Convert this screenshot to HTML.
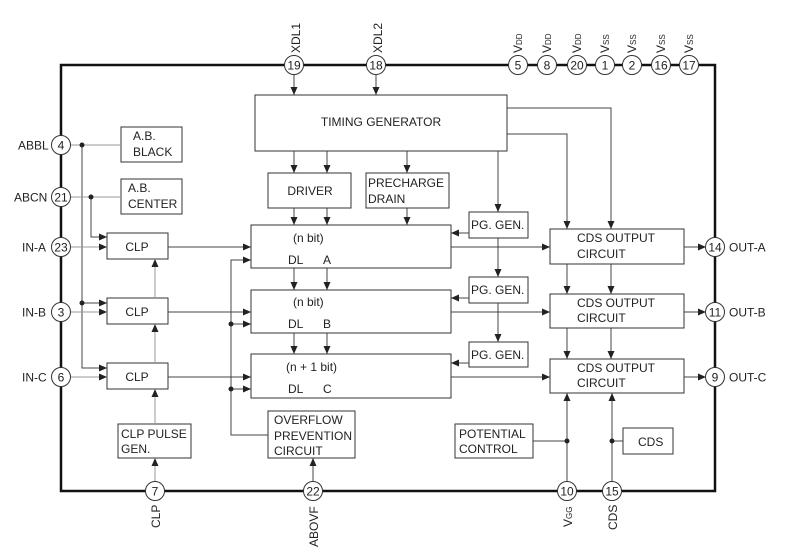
<!DOCTYPE html>
<html><head><meta charset="utf-8"><style>
html,body{margin:0;padding:0;background:#fff;}
svg{display:block;font-family:"Liberation Sans",Arial,sans-serif;}
text{fill:#222;font-size:12px;}
</style></head><body>
<svg width="789" height="554" viewBox="0 0 789 554" xmlns="http://www.w3.org/2000/svg">
<defs>
<marker id="a" markerWidth="8" markerHeight="8" refX="8" refY="4" orient="auto" markerUnits="userSpaceOnUse"><path d="M0,0.5 L8,4 L0,7.5z" fill="#222"/></marker>
</defs>
<!-- frame -->
<rect x="61" y="65" width="654" height="426" fill="none" stroke="#111" stroke-width="2.5"/>

<g fill="none" stroke="#333" stroke-width="1">
<!-- boxes -->
<rect x="255" y="95" width="252" height="56"/>
<rect x="121" y="127" width="61" height="35"/>
<rect x="121" y="179" width="61" height="35"/>
<rect x="268" y="173" width="83" height="35"/>
<rect x="366" y="173" width="83" height="35"/>
<rect x="251" y="225" width="200" height="43"/>
<rect x="251" y="290" width="200" height="43"/>
<rect x="251" y="354" width="200" height="44"/>
<rect x="107" y="233" width="61" height="26"/>
<rect x="107" y="298" width="61" height="26"/>
<rect x="107" y="363" width="61" height="26"/>
<rect x="118" y="424" width="73" height="34"/>
<rect x="268" y="411" width="87" height="47"/>
<rect x="469" y="212" width="59" height="26"/>
<rect x="469" y="277" width="59" height="26"/>
<rect x="469" y="342" width="59" height="25"/>
<rect x="550" y="229" width="134" height="35"/>
<rect x="550" y="294" width="134" height="34"/>
<rect x="550" y="359" width="134" height="34"/>
<rect x="455" y="424" width="78" height="34"/>
<rect x="623" y="428" width="50" height="26"/>
</g>

<g fill="none" stroke="#444" stroke-width="1">
<!-- top pins to timing -->
<line x1="294" y1="75" x2="294" y2="95" marker-end="url(#a)"/>
<line x1="376" y1="75" x2="376" y2="95" marker-end="url(#a)"/>
<!-- timing to driver etc -->
<line x1="294" y1="151" x2="294" y2="173" marker-end="url(#a)"/>
<line x1="327" y1="151" x2="327" y2="173" marker-end="url(#a)"/>
<line x1="407" y1="151" x2="407" y2="173" marker-end="url(#a)"/>
<line x1="498" y1="151" x2="498" y2="212" marker-end="url(#a)"/>
<polyline points="507,108 611,108 611,229" marker-end="url(#a)"/>
<polyline points="507,134 567,134 567,229" marker-end="url(#a)"/>
<line x1="294" y1="208" x2="294" y2="225" marker-end="url(#a)"/>
<line x1="327" y1="208" x2="327" y2="225" marker-end="url(#a)"/>
<line x1="407" y1="208" x2="407" y2="225" marker-end="url(#a)"/>
<line x1="294" y1="268" x2="294" y2="290" marker-end="url(#a)"/>
<line x1="327" y1="268" x2="327" y2="290" marker-end="url(#a)"/>
<line x1="294" y1="333" x2="294" y2="354" marker-end="url(#a)"/>
<line x1="327" y1="333" x2="327" y2="354" marker-end="url(#a)"/>
<!-- PG -->
<line x1="469" y1="233" x2="451" y2="233" marker-end="url(#a)"/>
<line x1="469" y1="298" x2="451" y2="298" marker-end="url(#a)"/>
<line x1="469" y1="363" x2="451" y2="363" marker-end="url(#a)"/>
<line x1="498" y1="238" x2="498" y2="277" marker-end="url(#a)"/>
<line x1="498" y1="303" x2="498" y2="342" marker-end="url(#a)"/>
<!-- DL to CDS -->
<line x1="451" y1="247" x2="550" y2="247" marker-end="url(#a)"/>
<line x1="451" y1="312" x2="550" y2="312" marker-end="url(#a)"/>
<line x1="451" y1="377" x2="550" y2="377" marker-end="url(#a)"/>
<line x1="567" y1="264" x2="567" y2="294" marker-end="url(#a)"/>
<line x1="611" y1="264" x2="611" y2="294" marker-end="url(#a)"/>
<line x1="567" y1="328" x2="567" y2="359" marker-end="url(#a)"/>
<line x1="611" y1="328" x2="611" y2="359" marker-end="url(#a)"/>
<line x1="567" y1="482" x2="567" y2="393" marker-end="url(#a)"/>
<line x1="612" y1="482" x2="612" y2="393" marker-end="url(#a)"/>
<line x1="533" y1="441" x2="567" y2="441"/>
<line x1="612" y1="441" x2="623" y2="441"/>
<!-- outputs -->
<line x1="684" y1="247" x2="706" y2="247" marker-end="url(#a)"/>
<line x1="684" y1="312" x2="706" y2="312" marker-end="url(#a)"/>
<line x1="684" y1="377" x2="706" y2="377" marker-end="url(#a)"/>
<!-- CLP to DL -->
<line x1="168" y1="247" x2="251" y2="247" marker-end="url(#a)"/>
<line x1="168" y1="312" x2="251" y2="312" marker-end="url(#a)"/>
<line x1="168" y1="377" x2="251" y2="377" marker-end="url(#a)"/>
<polyline points="268,435 231,435 231,260 251,260" marker-end="url(#a)"/>
<line x1="231" y1="324" x2="251" y2="324" marker-end="url(#a)"/>
<line x1="231" y1="389" x2="251" y2="389" marker-end="url(#a)"/>
<!-- left -->
<polyline points="91,197 91,237 107,237" marker-end="url(#a)"/>
<polyline points="82,145 82,368 107,368" marker-end="url(#a)"/>
<line x1="82" y1="303" x2="107" y2="303" marker-end="url(#a)"/>
<line x1="313" y1="482" x2="313" y2="458" marker-end="url(#a)"/>
</g>
<g stroke="#999" stroke-width="1" fill="none">
<line x1="71" y1="145" x2="121" y2="145"/>
<line x1="71" y1="197" x2="121" y2="197"/>
<line x1="71" y1="247" x2="107" y2="247" marker-end="url(#a)"/>
<line x1="71" y1="312" x2="107" y2="312" marker-end="url(#a)"/>
<line x1="71" y1="377" x2="107" y2="377" marker-end="url(#a)"/>
<line x1="155" y1="424" x2="155" y2="389" marker-end="url(#a)"/>
<line x1="155" y1="363" x2="155" y2="324" marker-end="url(#a)"/>
<line x1="155" y1="298" x2="155" y2="259" marker-end="url(#a)"/>
<line x1="155" y1="482" x2="155" y2="458" marker-end="url(#a)"/>
</g>
<g fill="#222">
<circle cx="82" cy="145" r="2.5"/><circle cx="91" cy="197" r="2.5"/><circle cx="82" cy="303" r="2.5"/>
<circle cx="231" cy="324" r="2.5"/><circle cx="231" cy="389" r="2.5"/>
<circle cx="567" cy="441" r="2.5"/><circle cx="612" cy="441" r="2.5"/>
</g>

<!-- pins -->
<g fill="#fff" stroke="#333" stroke-width="1">
<circle cx="294" cy="65" r="9.5"/><circle cx="376" cy="65" r="9.5"/>
<circle cx="518" cy="65" r="9.5"/><circle cx="547" cy="65" r="9.5"/><circle cx="577" cy="65" r="9.5"/>
<circle cx="605" cy="65" r="9.5"/><circle cx="632" cy="65" r="9.5"/><circle cx="661" cy="65" r="9.5"/><circle cx="689" cy="65" r="9.5"/>
<circle cx="61" cy="145" r="9.5"/><circle cx="61" cy="197" r="9.5"/><circle cx="61" cy="247" r="9.5"/><circle cx="61" cy="312" r="9.5"/><circle cx="61" cy="377" r="9.5"/>
<circle cx="715" cy="247" r="9.5"/><circle cx="715" cy="312" r="9.5"/><circle cx="715" cy="377" r="9.5"/>
<circle cx="155" cy="491" r="9.5"/><circle cx="313" cy="491" r="9.5"/><circle cx="567" cy="491" r="9.5"/><circle cx="612" cy="491" r="9.5"/>
</g>
<g text-anchor="middle">
<text x="294" y="69.5">19</text><text x="376" y="69.5">18</text>
<text x="518" y="69.5">5</text><text x="547" y="69.5">8</text><text x="577" y="69.5">20</text>
<text x="605" y="69.5">1</text><text x="632" y="69.5">2</text><text x="661" y="69.5">16</text><text x="689" y="69.5">17</text>
<text x="61" y="149.5">4</text><text x="61" y="201.5">21</text><text x="61" y="251.5">23</text><text x="61" y="316.5">3</text><text x="61" y="381.5">6</text>
<text x="715" y="251.5">14</text><text x="715" y="316.5">11</text><text x="715" y="381.5">9</text>
<text x="155" y="495.5">7</text><text x="313" y="495.5">22</text><text x="567" y="495.5">10</text><text x="612" y="495.5">15</text>
<text x="381" y="126">TIMING GENERATOR</text>
<text x="310" y="195">DRIVER</text>
<text x="137" y="251">CLP</text><text x="137" y="316">CLP</text><text x="137" y="381">CLP</text>
<text x="250" y="165" transform="rotate(-90 0 0)" style="display:none"></text>
</g>
<text x="18" y="149.5">ABBL</text>
<text x="14" y="201.5">ABCN</text>
<text x="22" y="251.5">IN-A</text>
<text x="22" y="316.5">IN-B</text>
<text x="22" y="381.5">IN-C</text>
<text x="729" y="251.5">OUT-A</text>
<text x="729" y="316.5">OUT-B</text>
<text x="729" y="381.5">OUT-C</text>
<text x="133" y="140">A.B.</text><text x="133" y="156">BLACK</text>
<text x="128" y="192">A.B.</text><text x="128" y="208">CENTER</text>
<text x="368" y="187">PRECHARGE</text><text x="368" y="203">DRAIN</text>
<text x="293" y="242">(n bit)</text><text x="288" y="264">DL</text><text x="323" y="264">A</text>
<text x="293" y="306">(n bit)</text><text x="288" y="328">DL</text><text x="323" y="328">B</text>
<text x="286" y="371">(n + 1 bit)</text><text x="288" y="393">DL</text><text x="323" y="393">C</text>
<text x="471" y="229">PG. GEN.</text><text x="471" y="294">PG. GEN.</text><text x="471" y="359">PG. GEN.</text>
<text x="577" y="242">CDS OUTPUT</text><text x="577" y="258">CIRCUIT</text>
<text x="577" y="307">CDS  OUTPUT</text><text x="577" y="322">CIRCUIT</text>
<text x="577" y="372">CDS OUTPUT</text><text x="577" y="387">CIRCUIT</text>
<text x="121" y="438">CLP PULSE</text><text x="121" y="453">GEN.</text>
<text x="274" y="424">OVERFLOW</text><text x="274" y="440">PREVENTION</text><text x="274" y="455">CIRCUIT</text>
<text x="459" y="438">POTENTIAL</text><text x="459" y="453">CONTROL</text>
<text x="638" y="446">CDS</text>
<!-- rotated labels -->
<text transform="translate(300,53) rotate(-90)">XDL1</text>
<text transform="translate(382,53) rotate(-90)">XDL2</text>
<g font-size="12">
<text transform="translate(522,53) rotate(-90)">V<tspan font-size="8">DD</tspan></text>
<text transform="translate(551,53) rotate(-90)">V<tspan font-size="8">DD</tspan></text>
<text transform="translate(581,53) rotate(-90)">V<tspan font-size="8">DD</tspan></text>
<text transform="translate(609,53) rotate(-90)">V<tspan font-size="8">SS</tspan></text>
<text transform="translate(636,53) rotate(-90)">V<tspan font-size="8">SS</tspan></text>
<text transform="translate(665,53) rotate(-90)">V<tspan font-size="8">SS</tspan></text>
<text transform="translate(693,53) rotate(-90)">V<tspan font-size="8">SS</tspan></text>
</g>
<text transform="translate(160,528) rotate(-90)">CLP</text>
<text transform="translate(318,547) rotate(-90)">ABOVF</text>
<text transform="translate(572,527) rotate(-90)">V<tspan font-size="8">GG</tspan></text>
<text transform="translate(617,530) rotate(-90)">CDS</text>
</svg>
</body></html>
